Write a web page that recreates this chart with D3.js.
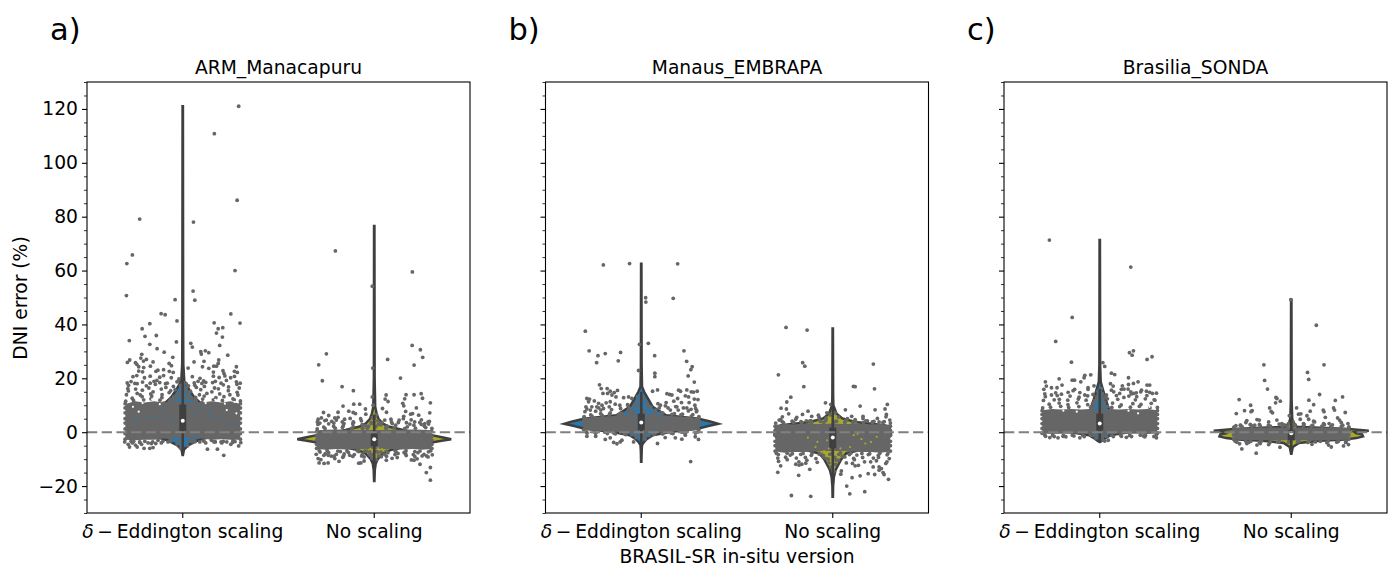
<!DOCTYPE html>
<html><head><meta charset="utf-8">
<script src="https://cdnjs.cloudflare.com/ajax/libs/d3/7.8.5/d3.min.js"></script>
<style>html,body{margin:0;padding:0;background:#fff}svg{display:block}text{font-family:"DejaVu Sans";fill:#000}</style>
</head><body><svg id="c" width="1392" height="567"></svg>
<script>
const panelTitles = ["ARM_Manacapuru","Manaus_EMBRAPA","Brasilia_SONDA"];
const panelLetters = ["a)","b)","c)"];
const yTicks = [-20,0,20,40,60,80,100,120];
const yMinorTicks = d3.range(-30,131,5);
const categories = ["delta","none"];
const coreOffsets = [-.3,-.25,-.2,-.15,-.1,-.05,0,.05,.1,.15,.2,.25,.3];
const fringeOffsets = [-.3,-.275,-.25,-.225,-.2,-.175,-.15,-.125,-.1,-.075,-.05,-.025,0,.025,.05,.075,.1,.125,.15,.175,.2,.225,.25,.275,.3];
const fringeJitter = [.002,.011,-.007,.013,-.004,.009,-.012,.006,-.009,.012,.003,-.011,.008,-.005,.013,-.008,.004,-.013,.01,-.002,.007,-.01,.012,-.006,.001];

// violin profiles: [value, half width in category units]
const violinA0 = [[121,.001],[40,.002],[25,.003],[19,.008],[15.6,.035],[13,.06],[11,.09],[9,.16],[6,.25],[3.5,.295],[2,.28],[0,.25],[-1,.2],[-2,.13],[-3,.08],[-4.8,.03],[-6.5,.006],[-8.5,.001]];
const violinA1 = [[76.5,.001],[20,.002],[9.4,.005],[7,.012],[5,.022],[3.2,.045],[2,.08],[.8,.15],[-.2,.22],[-1.1,.3],[-2,.36],[-2.6,.402],[-3.1,.36],[-3.8,.3],[-5,.2],[-6.5,.09],[-8,.045],[-10,.018],[-11.6,.008],[-14,.003],[-18.1,.001]];
const violinB0 = [[62.5,.001],[25,.002],[16.9,.004],[15,.015],[13.1,.03],[9.4,.06],[6.3,.13],[5,.3],[4,.36],[3.1,.402],[2.3,.35],[1.4,.3],[.1,.15],[-1.1,.06],[-2.5,.03],[-3.6,.015],[-4.8,.004],[-7,.002],[-11,.001]];
const violinB1 = [[38.5,.001],[14,.002],[10,.003],[6.9,.02],[5.1,.05],[3.8,.12],[2.6,.27],[1,.3],[-1,.305],[-3,.28],[-5.5,.2],[-7.9,.07],[-10,.045],[-12,.03],[-14,.015],[-16.6,.006],[-20,.002],[-24,.001]];
const violinC0 = [[71.3,.001],[25,.002],[18.7,.005],[15,.02],[11.3,.035],[8.2,.05],[6,.15],[4,.26],[2.5,.285],[1,.25],[0,.15],[-1.1,.055],[-2,.035],[-3.3,.008],[-3.6,.001]];
const violinC1 = [[49.2,.001],[12,.002],[5,.005],[3.8,.01],[2,.03],[1.2,.3],[.8,.36],[.5,.405],[.3,.37],[.1,.33],[-.4,.34],[-.8,.37],[-1.6,.375],[-2.2,.34],[-2.7,.28],[-3.2,.15],[-4,.04],[-5.5,.008],[-8,.001]];

// box: [q1, median, q3, whisker low, whisker high]
const boxA0 = [.5,4.2,10.3,-8.5,25];
const boxA1 = [-5.2,-2.6,-.5,-12,6.5];
const boxB0 = [.8,3.6,6.9,-8,15];
const boxB1 = [-6,-2,1.7,-17,12];
const boxC0 = [.6,3.2,6.9,-3.6,16];
const boxC1 = [-3,-.4,.7,-8,5];

// saturated cloud of overlapping dots: upper and lower edge at coreOffsets
const coreUpA0 = [10.5,11.5,11,11.5,11,11.5,11,11.5,11,11.5,11,11.5,10.5];
const coreLoA0 = [-2.8,-3,-2.8,-2.8,-2.3,-2.3,-2,-2.3,-2.3,-2.8,-2.6,-2.8,-2.8];
const coreUpA1 = [.7,.9,1,.9,.8,.8,.8,.8,.9,.9,1,.9,.7];
const coreLoA1 = [-6.2,-6.5,-6.2,-6.4,-6.2,-6.2,-6.2,-6.2,-6.2,-6.4,-6.2,-6.5,-6.2];
const coreUpB0 = [5.2,5.6,5.8,6,6.4,6.6,6.8,6.6,6.4,6,5.8,5.6,5.2];
const coreLoB0 = [.8,.5,.4,.3,0,-.1,-.2,-.1,0,.3,.4,.5,.8];
const coreUpB1 = [2.8,3,2.9,3,3,3,3.2,3,3,3,2.9,3,2.8];
const coreLoB1 = [-7.2,-7.6,-7.4,-7.4,-7.2,-7,-7,-7,-7.2,-7.4,-7.4,-7.6,-7.2];
const coreUpC0 = [8.1,8.6,8.4,8.6,8.4,8.6,8.8,8.6,8.4,8.6,8.4,8.6,8.1];
const coreLoC0 = [-.5,-.7,-.6,-.6,-.6,-.6,-.7,-.6,-.6,-.6,-.6,-.7,-.5];
const coreUpC1 = [1.5,1.7,1.7,1.7,1.7,1.7,1.7,1.7,1.7,1.7,1.7,1.7,1.5];
const coreLoC1 = [-2.8,-2.9,-2.9,-3,-3,-3,-3,-3,-3,-3,-2.9,-2.9,-2.8];

// edge of the saturated cloud: dot values read along fringeOffsets
const fringeA0 = [
 [11.5,12.6,11.8,13.2,12,12.4,13.4,11.9,12.8,12.2,13.1,12,12.5,13.3,11.9,12.9,12.3,13.4,12,12.8,11.8,13.2,12.4,12,11.6],
 [13.9,15.3,14.4,13.8,15.6,14.2,15,16,13.9,14.7,15.4,14,16.2,14.5,15.2,13.9,15.8,14.4,15,16.1,14.2,15.4,13.9,14.8,13.8],
 [16.2,17.4,16,18,17.2,16.4,17.8,19.2,16.6,18.2,17,19,15.8,18,17.4,16.6,19,17,18.4,16.4,17.6,19.2,16.8,17.8,16.4],
 [-3.6,-4,-3.4,-3.8,-3.4,-4.2,-3.6,-4,-3.4,-3.2,-3,-3.4,-3.4,-3.2,-3.1,-3.5,-3.2,-4,-3.6,-3.4,-4,-3.4,-3.8,-3.5,-3.9]];
const fringeA1 = [
 [1.2,1.9,1.4,2.2,1.5,1.8,2.4,1.4,2,1.6,2.4,1.5,2,2.8,1.5,2.2,1.6,2.6,1.4,2,2.6,1.5,2.2,1.7,1.4],
 [2.9,3.4,3.1,4,3.4,3.8,4.8,3,3.6,5,2.8,3.2,5.2,3.4,3.6,4.8,3.2,3.6,5,3,4.6,3.6,4.6,3,4],
 [-6.9,-7.4,-6.8,-7.6,-7,-7.2,-6.9,-7.5,-6.9,-7.2,-7,-7.3,-7.1,-7.4,-7,-7.6,-6.9,-7.2,-7.5,-6.9,-7.2,-7.6,-7,-7.3,-6.9],
 [-8.2,-8.6,-8,-8.9,-8.2,-9.3,-8.1,-9,-8.3,-8.8,-8.1,-8.6,-8.3,-9.1,-8.2,-8.9,-8.3,-9.4,-8.1,-8.7,-8.3,-9,-8.2,-8.8,-8.4]];
const fringeB0 = [
 [5.8,6.4,6,6.9,6.2,6.6,7.2,6.4,7,7.4,6.8,7.6,7.2,7.8,7,7.4,6.8,7.2,6.6,6.9,6.4,6.7,6,6.5,5.8],
 [7.6,8.6,7.8,9,8.2,9.4,8.4,10,8.8,10.2,8.9,9.6,8.9,10.4,9.2,10.6,9,9.8,8.2,9.4,8.2,9,7.9,8.8,7.6],
 [.1,-.3,.2,-.4,0,-.5,-.3,-.6,-.5,-.9,-.8,-1,-1.1,-.9,-.8,-.7,-.5,-.6,-.3,-.5,0,-.4,.2,-.3,.1]];
const fringeB1 = [
 [3.4,3.9,3.5,4.1,3.6,3.9,3.6,4.2,3.7,4,3.6,4.3,3.8,4.1,3.6,4.2,3.6,3.9,3.6,4.2,3.5,4,3.6,3.9,3.4],
 [-7.9,-8.3,-7.8,-8.5,-8,-8.2,-7.9,-8.6,-7.8,-8.1,-7.7,-8.2,-7.8,-8.2,-7.7,-8.3,-7.8,-8.5,-7.9,-8.3,-8,-8.6,-7.8,-8.4,-7.9],
 [-9.6,-10.8,-9.3,-10.2,-9.6,-11,-9.4,-10.4,-9.8,-11.2,-9.2,-10,-9.4,-10.4,-9.2,-11.4,-9.7,-10.2,-9.4,-11,-9.6,-10.6,-9.3,-11,-9.8]];
const fringeC0 = [
 [9,10.4,9.3,10.8,9.6,10.2,9.2,10.9,9.5,10.2,9.3,10.7,9.6,10.3,9.2,10.8,9.5,10.1,9.3,10.6,9.6,10.3,9.1,10.7,9.2],
 [11.8,13.2,12,13.6,12.2,11.9,13.4,12.3,13,11.9,13.5,12.6,12,13.2,12.4,13.6,12.2,12.9,13.4,12,13.2,12.4,13.6,12,11.9],
 [-1,-1.5,-1.1,-1.6,-1.2,-1.7,-1.1,-1.4,-1.2,-1.6,-1,-1.4,-1.6,-1.2,-1.1,-1.6,-1,-1.5,-1.2,-1.6,-1.1,-1.4,-1.2,-1.6,-1]];
const fringeC1 = [
 [2,2.5,2.1,2.7,2.2,2.9,2.3,2.6,2.2,3,2.3,2.7,2.2,2.6,2.3,2.9,2.2,2.6,2.2,2.8,2.1,2.7,2.2,2.6,2],
 [-3.3,-3.7,-3.3,-3.8,-3.4,-3.6,-3.3,-3.9,-3.3,-3.6,-3.4,-3.7,-3.3,-3.6,-3.4,-3.8,-3.3,-3.6,-3.4,-3.9,-3.3,-3.7,-3.4,-3.8,-3.3]];

// dots forming the two sides of the cloud, values along jitter limit
const sideA0 = [-2.6,-.5,1.2,3.4,5,7.2,9,10.6];
const sideA1 = [-6,-4.5,-3,-1.5,.2];
const sideB0 = [1,2.5,4,5.2];
const sideB1 = [-7,-5,-3.4,-1.2,.6,2.2];
const sideC0 = [-.4,1.4,3.2,5,6.6,8];
const sideC1 = [-2.6,-1,.6,1.6];

// dots lying over the violin bodies
const overA0 = [[-.07,11.4],[.07,11.6],[-.05,12.4],[.045,12.8],[-.03,13.6],[.028,14.2],[-.02,15],[.018,16.4],[-.012,17.4],[.01,18.4],[-.1,10.8],[.1,11],[-.06,-3.2],[.05,-3.6],[-.03,-4.4],[.025,-5],[-.012,-5.8]];
const overA1 = [[-.06,1.4],[.06,1.6],[-.03,2.2],[.035,2.8],[-.016,3.6],[.018,4.2],[-.01,5.4],[.01,6.4],[-.04,-7],[.035,-7.4],[-.025,-8.4],[.022,-8.8],[-.012,-9.6],[.01,-10.2]];
const overB0 = [[-.1,7],[.1,7.2],[-.07,7.8],[.075,8.2],[-.05,8.6],[.05,9.4],[-.035,10],[.03,10.8],[-.02,11.4],[.015,12.4],[-.02,13.2],[-.05,-.9],[.04,-1.2],[-.025,-2],[.02,-2.6]];
const overB1 = [[-.12,3.8],[.12,3.9],[-.07,4.6],[.07,4.4],[-.035,5.2],[.03,5.6],[-.015,6.4],[.012,7.2],[-.05,-8.6],[.05,-9],[-.035,-9.8],[.03,-10.4],[-.02,-11.4],[.015,-12],[-.01,-13],[.006,-14.6]];
const overC0 = [[-.04,9.2],[.04,9.6],[-.03,10.4],[.025,11],[-.025,11.8],[.02,12.4],[-.015,13.2],[.015,14.2],[-.01,15.2],[.008,16.2],[-.04,-1.2],[.035,-1.6],[-.02,-2.2],[.015,-2.8]];
const overC1 = [[-.02,2.2],[.02,2.6],[-.012,3.2],[.01,3.8]];

// individual dots readable outside the saturated cloud: [jitter, value]
const pointsA0 = [[.292,121],[.165,110.8],[.284,86.1],[-.225,79.1],[.056,78],[-.263,65.8],[-.292,62.6],[.273,60],[.054,52.4],[-.294,50.7],[-.04,49.2],[.063,49],
[-.113,44],[-.092,43.6],[-.03,41.3],[.251,43.9],[.164,40.6],[.299,40.5],[-.172,40.3],[-.212,38.4],[.209,38.8],[.185,38.4],[.176,36.8],[-.197,35.6],[-.138,35.9],[.207,35.3],[-.279,34],[-.033,33.5],[-.172,32.6],[.042,33],[.05,31.6],[.193,32.2],[-.134,31],[-.097,29.7],[.094,29.9],[.118,30.2],[.136,29.5],[.097,29],[-.214,28.9],[.235,28.6],[-.19,27],[-.219,27.5],[-.052,27.8],[-.277,26.8],[-.289,25.9],[-.247,25.8],[-.24,25.2],[-.205,26.4],[-.155,26.1],[-.169,24.5],[-.071,25.5],[-.059,24.7],[.059,26.1],[.111,26.3],[.188,26.8],[.185,25.5],[.103,24.3],[.136,23.7],[.162,24.5],[.176,24.5],[.28,24.3],[.028,23.8],[.21,22.8],[-.204,24],[-.23,24.3],
[-.23,22.7],[-.21,22.4],[-.14,22.6],[-.13,23],[-.1,23.2],[-.07,22.6],[-.05,22.2],[.16,22.3],[.215,21.8],[.27,22.6],[.285,22.2],
[-.26,20.6],[-.24,21],[-.2,20.2],[-.17,20.8],[-.12,20.4],[-.1,21],[-.06,20.2],[.05,20.6],[.09,20],[.16,20.8],[.19,20.3],[.22,20.9],[.25,20.2],[.27,20.7],
[-.29,18.3],[-.27,18.8],[-.25,18.1],[-.21,18.6],[-.17,18.2],[-.15,18.9],[-.12,18.4],[-.09,18],[-.03,18.7],[.06,18.3],[.08,18.9],[.1,18.1],[.12,18.5],[.17,18.9],[.2,18.2],[.28,18.7],[.3,18.2],
[.015,15.5],[-.015,13.2],[.035,12.6],[-.04,15.8],[.03,17.2],[-.02,19.8],
[-.285,-4.5],[-.278,-5.5],[-.247,-4.8],[-.238,-5.5],[-.202,-6],[-.172,-6],[-.155,-5.7],[-.141,-4.2],[-.077,-3.6],[.129,-6.3],[.181,-6.3],[.214,-8.6],[.251,-4.5],[.292,-5.1],[.089,-3.6],[.15,-3],[.2,-3.6],[.263,-3],[-.225,-3.6],[-.181,-4],[-.129,-3],[-.27,-3.4],[-.215,-4.5],[.11,-3.2],[.17,-3.6],[.23,-3.6]];
const pointsA1 = [[-.203,67.3],[.199,59.5],[-.01,54.2],[.198,32.2],[.241,30.6],[.253,27.8],[-.25,29.1],[-.29,25],[.07,27],[.208,24.9],[-.008,23.8],[-.271,19.1],[.137,20.1],[-.168,16.9],[-.109,15.4],[-.01,13.1],[.062,13.8],[.166,13.9],[.208,13.9],[.245,14.3],[.252,12.6],[.057,12.3],[.072,11.4],[.159,12.4],[.149,10.7],[.154,9.8],[.293,10.9],[-.107,10.4],[-.076,10.4],[-.163,9.7],[-.006,10],[.043,8.8],[-.046,8.6],[.22,9],[.164,7.7],[.064,7.4],[-.189,7.4],[-.133,7.8],
[-.11,7.3],[-.098,6.9],[-.265,7.3],[.29,7.2],[.2,6.9],[.154,5.9],[.19,6.7],[.232,6.3],[-.044,6.7],[-.238,6.2],[-.276,5.3],[-.293,4.8],[-.206,5.3],[-.189,5.5],[-.258,4.3],[-.297,3.8],[-.25,4.5],[-.198,4.5],[-.126,5.1],[-.11,3.8],[-.158,3.2],[-.067,4.2],[.055,4.5],[.09,3.8],[.13,4.5],[.168,3.5],[.211,3.8],[.281,3.8],[.264,3.2],[.246,2.9],
[.293,-17.8],[.272,-15],[.293,-13.1],[.239,-11.9],[.194,-10.3],[.208,-10.4],[.224,-9.9],[.281,-9.2],[.093,-9.7],[.063,-10.4],[-.053,-9.2],[-.081,-11.5],[-.07,-11.4],[-.053,-10.7],[-.241,-11.4],[-.262,-11.6],[-.288,-11.4],[-.293,-9.8],[-.279,-10.2],[-.206,-9.8],[-.184,-10.8],[-.21,-8.9],[-.128,-8.6],[.124,-7.9],[.163,-7.9],[.25,-8.8],[-.16,-8.8],[-.24,-8.6]];
const pointsB0 = [[-.198,62.1],[-.061,62.6],[.19,62.5],[.023,49.9],[.167,49.7],[.024,48.3],[-.292,37.5],[-.009,32.6],[.037,33],[-.272,30.2],[.223,30.2],[-.108,29.6],[-.188,29.2],[-.226,28.4],[.07,28.4],[-.233,25.8],[-.12,26.5],[.237,26.3],[.266,24.3],[.259,23.2],[-.014,22.9],[.071,21.9],[.071,20.6],[.245,20.9],[.277,18.6],[-.218,17.6],[-.209,16.2],[-.178,16.2],[-.124,15.5],
[-.162,15.2],[-.141,14.7],[-.176,14.4],[-.2,14.4],[-.153,13.8],[-.132,13.1],[.195,15.6],[.205,15.2],[.238,15.7],[.261,15],[.273,14.9],[.292,15.2],[.085,15.7],[.059,15.2],[.134,14.3],[.148,14],[.16,13.8],[.19,12.5],[.23,13.5],[.247,13.1],[.277,12.3],[.296,12.1],[-.284,12.5],[-.27,12.3],[-.275,11.3],[-.289,9.4],[-.245,11.6],[-.223,10.7],[-.205,10],[-.183,10.9],[-.162,11.3],[-.136,10.4],[-.258,9.4],[-.232,9.4],[-.266,8.2],[-.197,8.8],[-.092,12.8],[-.066,13.1],[-.049,12.5],
[.13,11],[.17,11.5],[.21,11],[.25,11],[.28,10],[.1,10],[.14,9],[.18,9.5],[.22,9],[.26,8.5],[.29,8],[-.07,10],[.258,-10.9],[.085,-4.2],[-.127,-4.3],[-.144,-3.8],
[-.101,-3],[-.11,-3.6],[-.188,-2.7],[-.238,-1.5],[-.284,-1.5],[-.04,-3.6],[.125,-2],[.178,-2.1],[.212,-2.6],[.299,-2.7],[.282,-1.7],[.23,-1.1],[-.162,-2.1]];
const pointsB1 = [[-.244,38.9],[-.134,37.9],[-.157,25.8],[-.146,24.5],[.212,25.3],[-.284,21.3],[-.151,16.9],[.108,17],[.117,16.9],[.218,16.1],[-.219,13],[-.24,11.2],[-.038,10.9],[-.01,10.3],[.285,10.3],[.143,9.7],[-.27,8.9],[-.242,8.6],[.273,8.6],[-.129,7.8],[-.23,6.8],[.066,8.3],[.221,8.3],[-.031,7.2],
[-.075,6.3],[-.11,5.9],[-.158,6.6],[-.188,5.5],[-.193,4.8],[-.263,5.7],[-.272,4.7],[-.28,4.5],[-.138,4.2],[-.113,4.2],[-.071,5.5],[.099,5.9],[.158,5.9],[.158,5.1],[.117,4.7],[.077,5],[.233,5.1],[.28,6.6],[.278,5.7],[.298,4.5],[.242,3.8],[.181,4.2],[.207,3.8],
[-.216,-23.5],[-.115,-23.8],[.167,-22.1],[.089,-22.9],[.073,-20],[-.287,-14.9],[-.178,-16],[-.12,-13.8],[.045,-14.4],[.042,-15.6],[.101,-16.9],[.143,-16.2],[.185,-15.4],[.219,-15.7],[.291,-17.5],[.268,-15.7],
[.254,-13.5],[.263,-15],[.242,-14.1],[.211,-12.9],[.198,-11],[.242,-12.9],[.277,-11.6],[.117,-12.5],[.134,-12.3],[.103,-11.6],[-.141,-11.5],[-.162,-11.9],[-.176,-12.2],[-.193,-11.9],[-.272,-12.5]];
const pointsC0 = [[-.263,71.3],[.162,61.3],[-.144,42.6],[-.23,33.7],[-.148,26],[.176,30.2],[.155,29.5],[.169,28.6],[.273,28],[.247,27],[.016,25.8],[.026,24.4],[-.047,21.3],[.061,21.9],[.078,21.4],[-.078,21.1],[-.082,20.2],[-.212,19.8],[-.144,19.3],[-.132,19.3],[-.099,18.7],[-.284,18.7],[.15,20.2],[.2,18.7],[.176,18.1],[.15,17.7],[.056,18],[-.197,17.5],[-.279,17.1],[.247,17.5],[.261,17.5],
[-.292,15.9],[-.252,16.5],[-.223,16.5],[-.131,15.9],[-.139,15.4],[-.061,16.5],[-.061,15.9],[-.03,17.2],[.07,17.1],[.118,17.2],[.061,15.6],[.073,15],[.113,15.9],[.127,16],[.148,16],[.162,15],[.214,15],[.218,15.6],[.275,14.4],[.178,14.4],[-.104,14.7],[-.2,14.1],[-.252,13.8],[-.23,14.6],[-.287,14.2],[-.165,14.8],[-.078,13.8],[-.035,14],[.035,13.8],[.104,14.4],[.165,14.2],[.191,14.6],[.296,14.5],[.261,14.8],[.244,15.2],
[-.261,-2],[-.191,-1.5],[.235,-1.7],[.044,-3],[.026,-3.3],[-.218,-2.1],[-.104,-2.1],[.139,-1.9],[.296,-2.1]];
const pointsC1 = [[-.002,49.2],[.131,39.7],[-.143,25],[.171,25],[.085,22.2],[.091,19.6],[-.139,19.2],[-.124,16],[.148,14],[-.272,12.1],[-.08,12.9],[-.075,12.5],[-.057,11.5],[-.082,10.9],[.268,13.1],[.23,11.8],[.092,11.9],[.117,10.2],[-.212,10],[-.113,9],[-.244,8],[-.204,8],[-.21,7.6],[-.287,6.9],[.028,9],[-.105,7.7],[-.098,7.2],
[.099,7.8],[.221,9],[.226,8.2],[.167,8.2],[.171,7.6],[.282,7.3],[.038,6.7],[.05,6.8],[.082,6.1],[.091,4.8],[.047,4.8],[.178,5.5],[.242,5.3],[.252,4.5],[-.01,6.1],[-.232,4.3],[-.237,3.6],[-.179,4.7],[-.167,4.5],[-.289,2.4],[-.266,2.6],[-.214,2.9],[-.191,2.6],[-.118,3.8],[-.075,4.5],[-.049,3.2],[.117,4.1],[.169,3.2],[.198,3.2],[.261,3.6],[.296,3.2],[.122,3.8],[.064,3.2],
[-.183,-7.8],[-.258,-6.2],[-.27,-4.3],[-.059,-5.6],[.209,-5.5],[.273,-5.1],[.299,-4.6],[.195,-4.8],[-.118,-4.6],[-.162,-4.2],[-.179,-4.8],[.108,-4.5],[-.232,-4.2]];

// gaps between dots inside the saturated cloud
const gapsA0 = [[-.26,9.4],[-.18,5.7],[-.09,8.2],[-.25,4.5],[.14,6.9],[.185,5.7],[.23,8.2],[.245,3.2],[-.13,5.7],[.02,9.4],[.06,6.9],[-.06,4.5],[.06,-2],[-.04,-1.7],[-.28,11.3],[-.21,10.8],[-.16,12.2],[-.12,10.4],[.12,10.8],[.17,12],[.22,10.6],[.27,11.2],[-.23,7.6],[.28,7],[.1,9.2]];
const gapsA1 = [[.02,-6],[-.02,-6.2],[.04,-6.3]];
const gapsB0 = [[.03,5],[-.04,4.6],[.06,2.2],[-.02,1],[.1,4.4]];
const gapsB1 = [[-.09,-5.5],[-.08,-3.6],[-.06,-7.3],[-.03,-3],[-.02,-6],[.11,-1.1],[.13,-.6],[.17,-4.2],[.23,-1.7],[.2,-3.6],[.09,-5.5],[.06,-7.3],[.04,-6],[-.045,-7],[.15,-2.6],[-.13,-2]];
const gapsC0 = [[-.19,8],[.15,8],[.02,5],[.04,7.5],[-.03,7.6],[-.12,7.6],[.2,7],[-.24,9.6],[.26,9.4],[-.08,9.2],[.09,9.4]];
const gapsC1 = [];

const strips = [
 [[violinA0,boxA0,coreUpA0,coreLoA0,pointsA0.concat(overA0),gapsA0,fringeA0,sideA0],[violinA1,boxA1,coreUpA1,coreLoA1,pointsA1.concat(overA1),gapsA1,fringeA1,sideA1]],
 [[violinB0,boxB0,coreUpB0,coreLoB0,pointsB0.concat(overB0),gapsB0,fringeB0,sideB0],[violinB1,boxB1,coreUpB1,coreLoB1,pointsB1.concat(overB1),gapsB1,fringeB1,sideB1]],
 [[violinC0,boxC0,coreUpC0,coreLoC0,pointsC0.concat(overC0),gapsC0,fringeC0,sideC0],[violinC1,boxC1,coreUpC1,coreLoC1,pointsC1.concat(overC1),gapsC1,fringeC1,sideC1]]
];
const violinColors = ["#2a78ad","#a8a82a"];
const dotColor = "#666666", lineColor = "#3f3f3f";

const svg = d3.select("#c");
const panelLefts = [87,545.5,1004], panelW = 383, plotTop = 82, plotBottom = 513;
const y = d3.scaleLinear().domain([-30,130]).range([plotBottom,plotTop]);
const dotR = 1.9;

panelTitles.forEach((title,pi)=>{
  const left = panelLefts[pi];
  const x = d3.scaleLinear().domain([-.5,1.5]).range([left,left+panelW]);
  const g = svg.append("g");
  strips[pi].forEach((s,ci)=>{
    const [violin,box,up,lo,pts,gaps,fringe,side] = s;
    const hwAt = v => {
      const asc = violin.slice().reverse();
      if (v<asc[0][0]||v>asc[asc.length-1][0]) return 0;
      const i = d3.bisector(d=>d[0]).left(asc,v);
      if (i===0) return asc[0][1];
      const a=asc[i-1],b=asc[i];
      return a[1]+(b[1]-a[1])*(v-a[0])/(b[0]-a[0]);
    };
    const area = d3.area().y(d=>y(d[0])).x0(d=>x(ci-d[1])).x1(d=>x(ci+d[1]));
    g.append("path").attr("d",area(violin)).attr("fill",violinColors[ci])
      .attr("stroke",lineColor).attr("stroke-width",2.5).attr("stroke-linejoin","miter");
    const coreArea = d3.area().x((d,i)=>x(ci+coreOffsets[i])).y0((d,i)=>y(lo[i])).y1((d,i)=>y(up[i]));
    g.append("path").attr("d",coreArea(up)).attr("fill",dotColor);
    const dots = pts.slice();
    fringe.forEach((row,r)=>row.forEach((v,i)=>{
      const off = fringeOffsets[i]+fringeJitter[(i+7*r)%fringeJitter.length];
      dots.push([Math.max(-.303,Math.min(.303,off)),v]);
    }));
    side.forEach(v=>{dots.push([-.301,v]);dots.push([.301,v]);});
    g.selectAll(null).data(dots).join("circle")
      .attr("cx",d=>x(ci+d[0])).attr("cy",d=>y(d[1])).attr("r",dotR).attr("fill",dotColor);
    g.selectAll(null).data(gaps).join("circle")
      .attr("cx",d=>x(ci+d[0])).attr("cy",d=>y(d[1])).attr("r",1.1)
      .attr("fill",d=>Math.abs(d[0])<hwAt(d[1])?violinColors[ci]:"#ffffff");
    g.append("line").attr("x1",x(ci)).attr("x2",x(ci)).attr("y1",y(box[3])).attr("y2",y(box[4]))
      .attr("stroke",lineColor).attr("stroke-width",2.6);
    g.append("rect").attr("x",x(ci)-3.5).attr("width",7).attr("y",y(box[2])).attr("height",y(box[0])-y(box[2]))
      .attr("fill",lineColor);
    g.append("circle").attr("cx",x(ci)).attr("cy",y(box[1])).attr("r",2).attr("fill","#fff");
  });
  g.append("line").attr("x1",left).attr("x2",left+panelW).attr("y1",y(0)).attr("y2",y(0))
    .attr("stroke","#808080").attr("stroke-width",2).attr("stroke-dasharray","10.3,4.4");
  g.append("rect").attr("x",left).attr("y",plotTop).attr("width",panelW).attr("height",plotBottom-plotTop)
    .attr("fill","none").attr("stroke","#000").attr("stroke-width",1.1);

  const yAxis = d3.axisLeft(y).tickValues(yTicks).tickSize(5).tickPadding(4)
    .tickFormat(d=>pi===0?(d<0?"\u2212"+(-d):d):"");
  const ya = g.append("g").attr("transform",`translate(${left},0)`).call(yAxis);
  ya.select(".domain").remove();
  ya.selectAll("line").attr("stroke","#000").attr("stroke-width",1.1);
  ya.selectAll("text").style("font-size","18.7px").style("font-family","DejaVu Sans");
  const yMinor = d3.axisLeft(y).tickValues(yMinorTicks.filter(v=>!yTicks.includes(v))).tickSize(3).tickFormat("");
  const ym = g.append("g").attr("transform",`translate(${left},0)`).call(yMinor);
  ym.select(".domain").remove();
  ym.selectAll("line").attr("stroke","#000").attr("stroke-width",.8);

  categories.forEach((c,ci)=>{
    g.append("line").attr("x1",x(ci)).attr("x2",x(ci)).attr("y1",plotBottom).attr("y2",plotBottom+5)
      .attr("stroke","#000").attr("stroke-width",1.1);
    const t = g.append("text").attr("x",x(ci)).attr("y",538).attr("text-anchor","middle").style("font-size","18.7px");
    if (c==="delta"){ 
      t.append("tspan").attr("font-style","italic").text("\u03b4");
      t.append("tspan").text("\u2009\u2212\u2009Eddington scaling");
    } else t.text("No scaling");
  });
  g.append("text").attr("x",left+panelW/2).attr("y",73.5).attr("text-anchor","middle").style("font-size","18.7px").text(title);
  g.append("text").attr("x",left-37).attr("y",39.5).style("font-size","30.5px").text(panelLetters[pi]);
});
svg.append("text").attr("transform","translate(27,298) rotate(-90)").attr("text-anchor","middle").style("font-size","18.7px").text("DNI error (%)");
svg.append("text").attr("x",737).attr("y",562.5).attr("text-anchor","middle").style("font-size","18.7px").text("BRASIL-SR in-situ version");
</script></body></html>
